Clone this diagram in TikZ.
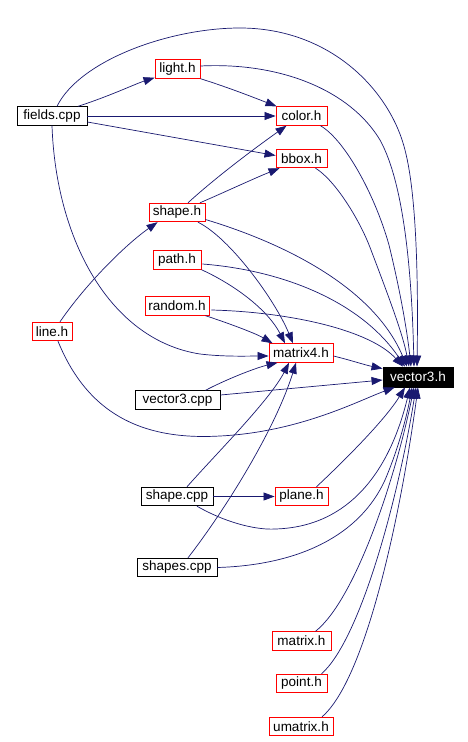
\documentclass[tikz,border=0pt]{standalone}
\usepackage{fontspec}
\setmainfont{Liberation Sans}
\usetikzlibrary{arrows.meta,calc}
\definecolor{edgec}{HTML}{191970}
\begin{document}
\begin{tikzpicture}[x=1pt,y=-1pt,
  box/.style={draw,rectangle,inner sep=0pt,minimum height=18.5pt,line width=0.9pt,font=\fontsize{13.5}{15}\selectfont},
  hdr/.style={box,draw=red},
  src/.style={box,draw=black},
  dep/.style={draw=edgec,line width=0.7pt,-{Triangle[length=11pt,width=8pt]},arrows={[fill=edgec]}}]
\useasboundingbox[fill=white] (0,0) rectangle (468,742);
% nodes
\node[src,minimum width=70pt] (fields) at (52,116) {fields.cpp};
\node[hdr,minimum width=45pt] (light) at (177.5,69) {light.h};
\node[hdr,minimum width=51pt] (color) at (301.5,116) {color.h};
\node[hdr,minimum width=51pt] (bbox) at (301.5,158.5) {bbox.h};
\node[hdr,minimum width=56pt] (shapeh) at (177,212.5) {shape.h};
\node[hdr,minimum width=48pt] (path) at (177,260) {path.h};
\node[hdr,minimum width=64pt] (random) at (177,306) {random.h};
\node[hdr,minimum width=40pt] (line) at (52,331.5) {line.h};
\node[hdr,minimum width=64pt] (matrix4) at (301,353) {matrix4.h};
\node[box,fill=black,text=white,minimum width=70pt,minimum height=20pt] (vector3) at (418,377) {vector3.h};
\node[src,minimum width=85pt] (v3cpp) at (177.5,400) {vector3.cpp};
\node[src,minimum width=72pt] (shapecpp) at (177,496.5) {shape.cpp};
\node[hdr,minimum width=53pt] (plane) at (301.5,496.5) {plane.h};
\node[src,minimum width=80pt] (shapescpp) at (177,567.5) {shapes.cpp};
\node[hdr,minimum width=59pt] (matrix) at (301.5,641) {matrix.h};
\node[hdr,minimum width=51pt] (point) at (301.5,683.5) {point.h};
\node[hdr,minimum width=64pt] (umatrix) at (301,726.5) {umatrix.h};
% edges
\draw[dep] ($(fields.north)+(26,0)$) .. controls (110,96) and (135,84) .. ($(light.south west)+(0,-1)$);
\draw[dep] (fields.east) -- (color.west);
\draw[dep] ($(fields.east)+(0,6)$) -- ($(bbox.west)+(0,-3)$);
\draw[dep] ($(fields.north)+(5,0)$) .. controls (80,60) and (170,28) .. (240,28) .. controls (330,28) and (390,90) .. (405,150) .. controls (418,200) and (418,300) .. ($(vector3.north)+(-1,0)$);
\draw[dep] (fields.south) .. controls (56,240) and (110,340) .. (200,354) .. controls (225,357) and (250,356) .. ($(matrix4.west)+(0,3)$);
\draw[dep] (light.south east) .. controls (230,88) and (255,98) .. ($(color.north west)+(1,0)$);
\draw[dep] ($(light.east)+(0,-3)$) .. controls (280,62) and (350,90) .. (380,140) .. controls (405,185) and (412,280) .. ($(vector3.north)+(-4,0)$);
\draw[dep] ($(color.south east)+(-7,0)$) .. controls (345,140) and (375,195) .. (389,245) .. controls (400,290) and (407,330) .. ($(vector3.north)+(-7,0)$);
\draw[dep] ($(bbox.south)+(14,0)$) .. controls (335,180) and (360,220) .. (371,250) .. controls (390,300) and (403,335) .. ($(vector3.north)+(-9,0)$);
\draw[dep] ($(shapeh.north)+(11,0)$) .. controls (215,178) and (255,148) .. ($(color.south west)+(11,0)$);
\draw[dep] ($(shapeh.north)+(23,0)$) .. controls (225,192) and (255,178) .. ($(bbox.south west)+(4,0)$);
\draw[dep] ($(shapeh.south)+(21,0)$) .. controls (230,238) and (275,300) .. ($(matrix4.north)+(-8,0)$);
\draw[dep] ($(shapeh.east)+(0,7)$) .. controls (290,245) and (375,290) .. ($(vector3.north)+(-11,0)$);
\draw[dep] ($(line.north)+(8,0)$) .. controls (85,285) and (125,245) .. ($(shapeh.south west)+(9,0)$);
\draw[dep] ($(line.south)+(6,0)$) .. controls (90,420) and (150,440) .. (220,436) .. controls (300,432) and (360,400) .. ($(vector3.south west)+(12,0)$);
\draw[dep] (path.south east) .. controls (235,285) and (268,310) .. ($(matrix4.north)+(-16,0)$);
\draw[dep] ($(path.east)+(1,4)$) .. controls (280,270) and (360,300) .. ($(vector3.north)+(-13,0)$);
\draw[dep] ($(random.south east)+(-4,0)$) .. controls (225,322) and (255,333) .. ($(matrix4.north west)+(4,0)$);
\draw[dep] ($(random.east)+(2,4)$) .. controls (290,312) and (370,330) .. ($(vector3.north)+(-15,0)$);
\draw[dep] ($(matrix4.east)+(0,3)$) .. controls (350,360) and (365,365) .. ($(vector3.north west)+(0,2)$);
\draw[dep] ($(v3cpp.north)+(28,0)$) .. controls (225,380) and (255,368) .. ($(matrix4.south west)+(9,0)$);
\draw[dep] ($(v3cpp.east)+(0,-5)$) -- ($(vector3.west)+(0,3)$);
\draw[dep] ($(shapecpp.north)+(10,0)$) .. controls (215,455) and (270,400) .. ($(matrix4.south)+(-12,0)$);
\draw[dep] (shapecpp.east) -- (plane.west);
\draw[dep] ($(shapecpp.south)+(20,0)$) .. controls (230,525) and (260,530) .. (275,529) .. controls (350,527) and (390,470) .. ($(vector3.south)+(-8,0)$);
\draw[dep] ($(shapescpp.north)+(11,0)$) .. controls (225,510) and (275,430) .. ($(matrix4.south)+(-5,0)$);
\draw[dep] (shapescpp.east) .. controls (300,565) and (360,535) .. (385,480) .. controls (400,445) and (408,410) .. ($(vector3.south)+(-6,0)$);
\draw[dep] ($(plane.north east)+(-12,0)$) .. controls (345,460) and (385,420) .. ($(vector3.south)+(-13,0)$);
\draw[dep] ($(matrix.north)+(14,0)$) .. controls (355,600) and (395,480) .. ($(vector3.south)+(-4,0)$);
\draw[dep] ($(point.north)+(20,0)$) .. controls (360,640) and (398,500) .. ($(vector3.south)+(-2,0)$);
\draw[dep] ($(umatrix.north)+(21,0)$) .. controls (365,680) and (400,520) .. (vector3.south);
\end{tikzpicture}
\end{document}
